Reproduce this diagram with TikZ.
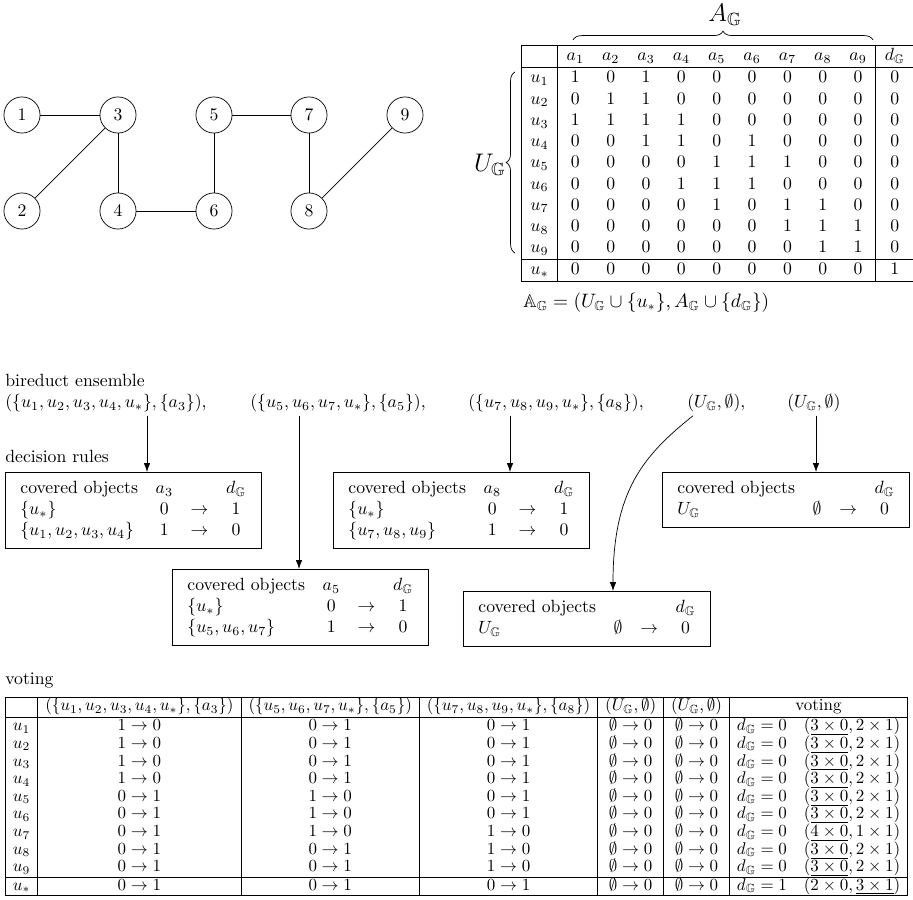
\documentclass[tikz,border=0pt]{standalone}
\usepackage{amsmath,amssymb}
\usetikzlibrary{decorations.pathreplacing,arrows.meta}

\newcommand{\Gb}{\mathbb{G}}
\newcommand{\rv}[2]{$#1\rightarrow #2$}
\newcommand{\vote}[3]{$d_{\Gb}=#1\quad(#2,#3)$}

\tikzset{
  vertex/.style={draw, circle, minimum size=20.4pt, inner sep=0pt},
  rulebox/.style={draw, inner sep=3.5pt, anchor=north west},
  txt/.style={inner sep=0pt, anchor=west},
  brc/.style={decorate, decoration={brace, amplitude=5pt}}
}

\begin{document}
\begin{tikzpicture}[x=0.565pt, y=-0.565pt, >={Latex[length=5pt,width=3.6pt]}]
  \useasboundingbox (0,0) rectangle (913,899);

  % graph
  \foreach \n/\x/\y in {1/22/115, 2/22/211, 3/118/115, 4/118/211, 5/214/115,
                        6/214/211, 7/309/115, 8/309/211, 9/405/115}
    \node[vertex] (v\n) at (\x,\y) {$\n$};
  \foreach \a/\b in {1/3, 3/2, 3/4, 4/6, 6/5, 5/7, 7/8, 8/9}
    \draw (v\a) -- (v\b);

  % decision table
  \node[inner sep=0pt, anchor=north west] (tbl) at (521,45) {%
    \setlength{\tabcolsep}{5.1pt}%
    \begin{tabular}{|c|ccccccccc|c|}\hline
      & $a_1$ & $a_2$ & $a_3$ & $a_4$ & $a_5$ & $a_6$ & $a_7$ & $a_8$ & $a_9$ & $d_{\Gb}$\\ \hline
      $u_1$ & 1 & 0 & 1 & 0 & 0 & 0 & 0 & 0 & 0 & 0\\
      $u_2$ & 0 & 1 & 1 & 0 & 0 & 0 & 0 & 0 & 0 & 0\\
      $u_3$ & 1 & 1 & 1 & 1 & 0 & 0 & 0 & 0 & 0 & 0\\
      $u_4$ & 0 & 0 & 1 & 1 & 0 & 1 & 0 & 0 & 0 & 0\\
      $u_5$ & 0 & 0 & 0 & 0 & 1 & 1 & 1 & 0 & 0 & 0\\
      $u_6$ & 0 & 0 & 0 & 1 & 1 & 1 & 0 & 0 & 0 & 0\\
      $u_7$ & 0 & 0 & 0 & 0 & 1 & 0 & 1 & 1 & 0 & 0\\
      $u_8$ & 0 & 0 & 0 & 0 & 0 & 0 & 1 & 1 & 1 & 0\\
      $u_9$ & 0 & 0 & 0 & 0 & 0 & 0 & 0 & 1 & 1 & 0\\ \hline
      $u_*$ & 0 & 0 & 0 & 0 & 0 & 0 & 0 & 0 & 0 & 1\\ \hline
    \end{tabular}};
  \coordinate (bl) at (573,40); \coordinate (br) at (873,40);
  \draw[brc] (bl) -- (br);
  \node[font=\Large] (AG) at (725,15) {$A_{\Gb}$};
  \coordinate (bb) at (515,253); \coordinate (bt) at (515,72);
  \draw[brc] (bb) -- (bt);
  \node[font=\Large] (UG) at (490,165) {$U_{\Gb}$};
  \node[txt, font=\fontsize{10.5}{12}\selectfont] (sys) at (523,303)
    {$\mathbb{A}_{\Gb}=(U_{\Gb}\cup\{u_*\},A_{\Gb}\cup\{d_{\Gb}\})$};

  % bireduct ensemble
  \node[txt] (hdr) at (5,380) {bireduct ensemble};
  \node[txt] (e1) at (5,403) {$(\{u_1,u_2,u_3,u_4,u_*\},\{a_3\})$,};
  \node[txt] (e2) at (250,403) {$(\{u_5,u_6,u_7,u_*\},\{a_5\})$,};
  \node[txt] (e3) at (468,403) {$(\{u_7,u_8,u_9,u_*\},\{a_8\})$,};
  \node[txt] (e4) at (687,403) {$(U_{\Gb},\emptyset)$,};
  \node[txt] (e5) at (787,403) {$(U_{\Gb},\emptyset)$};

  % decision rules
  \node[txt] (dr) at (5,456) {decision rules};
  \begin{scope}[every node/.append style={execute at begin node={\setlength{\tabcolsep}{5pt}}}]
  \node[rulebox] (r1) at (5,472) {\begin{tabular}{lccc}
      covered objects & $a_3$ & & $d_{\Gb}$\\
      $\{u_*\}$ & 0 & $\rightarrow$ & 1\\
      $\{u_1,u_2,u_3,u_4\}$ & 1 & $\rightarrow$ & 0
    \end{tabular}};
  \node[rulebox] (r2) at (172,569) {\begin{tabular}{lccc}
      covered objects & $a_5$ & & $d_{\Gb}$\\
      $\{u_*\}$ & 0 & $\rightarrow$ & 1\\
      $\{u_5,u_6,u_7\}$ & 1 & $\rightarrow$ & 0
    \end{tabular}};
  \node[rulebox] (r3) at (333,472) {\begin{tabular}{lccc}
      covered objects & $a_8$ & & $d_{\Gb}$\\
      $\{u_*\}$ & 0 & $\rightarrow$ & 1\\
      $\{u_7,u_8,u_9\}$ & 1 & $\rightarrow$ & 0
    \end{tabular}};
  \node[rulebox] (r4) at (463,591) {\begin{tabular}{lccc}
      covered objects & & & $d_{\Gb}$\\
      $U_{\Gb}$ & $\emptyset$ & $\rightarrow$ & 0
    \end{tabular}};
  \node[rulebox] (r5) at (662,472) {\begin{tabular}{lccc}
      covered objects & & & $d_{\Gb}$\\
      $U_{\Gb}$ & $\emptyset$ & $\rightarrow$ & 0
    \end{tabular}};
  \end{scope}

  \coordinate (s1) at (147,0); \coordinate (s2) at (299,0);
  \coordinate (s3) at (510,0); \coordinate (s4) at (693,0);
  \coordinate (t4) at (613,0); \coordinate (s5) at (816,0);
  \draw[->] ([yshift=-2pt]e1.south -| s1) -- (s1 |- r1.north);
  \draw[->] ([yshift=-2pt]e2.south -| s2) -- (s2 |- r2.north);
  \draw[->] ([yshift=-2pt]e3.south -| s3) -- (s3 |- r3.north);
  \draw[->] ([yshift=-2pt]e4.south -| s4) .. controls +(-50,40) and +(0,-100) .. (t4 |- r4.north);
  \draw[->] ([yshift=-2pt]e5.south -| s5) -- (s5 |- r5.north);

  % voting
  \node[txt] (vt) at (5,680) {voting};
  \node[inner sep=0pt, anchor=north west] (votes) at (5,697) {\scalebox{0.959}{%
    \renewcommand{\arraystretch}{0.8}\setlength{\tabcolsep}{4.4pt}%
    \begin{tabular}{|c|c|c|c|c|c|c|}\hline
      & $(\{u_1,u_2,u_3,u_4,u_*\},\{a_3\})$ & $(\{u_5,u_6,u_7,u_*\},\{a_5\})$
      & $(\{u_7,u_8,u_9,u_*\},\{a_8\})$ & $(U_{\Gb},\emptyset)$ & $(U_{\Gb},\emptyset)$ & voting\\[1pt] \hline
      $u_1$ & \rv10 & \rv01 & \rv01 & \rv\emptyset0 & \rv\emptyset0 & \vote0{\underline{3\times 0}}{2\times 1}\\
      $u_2$ & \rv10 & \rv01 & \rv01 & \rv\emptyset0 & \rv\emptyset0 & \vote0{\underline{3\times 0}}{2\times 1}\\
      $u_3$ & \rv10 & \rv01 & \rv01 & \rv\emptyset0 & \rv\emptyset0 & \vote0{\underline{3\times 0}}{2\times 1}\\
      $u_4$ & \rv10 & \rv01 & \rv01 & \rv\emptyset0 & \rv\emptyset0 & \vote0{\underline{3\times 0}}{2\times 1}\\
      $u_5$ & \rv01 & \rv10 & \rv01 & \rv\emptyset0 & \rv\emptyset0 & \vote0{\underline{3\times 0}}{2\times 1}\\
      $u_6$ & \rv01 & \rv10 & \rv01 & \rv\emptyset0 & \rv\emptyset0 & \vote0{\underline{3\times 0}}{2\times 1}\\
      $u_7$ & \rv01 & \rv10 & \rv10 & \rv\emptyset0 & \rv\emptyset0 & \vote0{\underline{4\times 0}}{1\times 1}\\
      $u_8$ & \rv01 & \rv01 & \rv10 & \rv\emptyset0 & \rv\emptyset0 & \vote0{\underline{3\times 0}}{2\times 1}\\
      $u_9$ & \rv01 & \rv01 & \rv10 & \rv\emptyset0 & \rv\emptyset0 & \vote0{\underline{3\times 0}}{2\times 1}\\ \hline
      $u_*$ & \rv01 & \rv01 & \rv01 & \rv\emptyset0 & \rv\emptyset0 & \vote1{2\times 0}{\underline{3\times 1}}\\ \hline
    \end{tabular}}};
\end{tikzpicture}
\end{document}
